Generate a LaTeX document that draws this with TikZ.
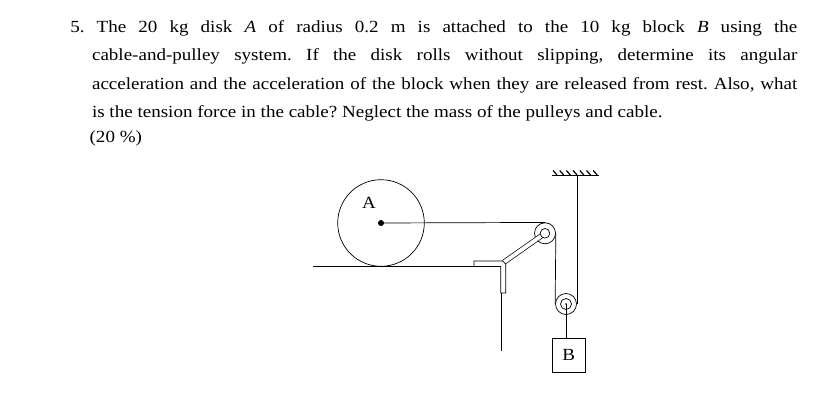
\documentclass[tikz,border=0pt]{standalone}
\usepackage{fontspec}
\setmainfont{Liberation Serif}[FakeStretch=1.12]
\usetikzlibrary{positioning}
\tikzstyle{prose} = [inner sep=0pt, text width=727pt, align=justify, font=\fontsize{17}{28.2}\selectfont\frenchspacing]
\tikzstyle{wheel} = [circle, draw=black, inner sep=0pt]
\tikzstyle{hub} = [circle, draw=black, fill=white, inner sep=0pt]
\tikzstyle{block} = [rectangle, draw=black, inner sep=0pt, minimum width=32.3pt, minimum height=34pt, font=\fontsize{17}{18}\selectfont]
\tikzstyle{rope} = [draw=black, line width=0.7pt]

\begin{document}
\begin{tikzpicture}[x=1pt, y=-1pt, line width=0.7pt]
\useasboundingbox (0,0) rectangle (819,414);

  \node (prob) [prose, anchor=base west] at (70,32.7) {\hangindent=21.7pt\hangafter=1
5. The 20 kg disk \textit{A} of radius 0.2 m is attached to the 10 kg block \textit{B} using the\linebreak
cable-and-pulley system. If the disk rolls without slipping, determine its angular\linebreak
acceleration and the acceleration of the block when they are released from rest. Also, what\linebreak
is the tension force in the cable? Neglect the mass of the pulleys and cable.\par};
  \node (mark) [anchor=base west, inner sep=0pt, font=\fontsize{17}{20}\selectfont] at (89.3,143) {(20 \%)};

  % disk and floor
  \node (diskA) [wheel, minimum size=86.6pt] at (381,223) {};
  \fill (diskA.center) circle (3pt);
  \node (labA) [font=\fontsize{17}{18}\selectfont] at (369,203) {A};
  \coordinate (floorL) at (313,266.5);
  \coordinate (floorR) at (500.7,266.5);
  \draw (floorL) -- (floorR);

  % pulleys, arm and bracket
  \node (pulleyC) [wheel, minimum size=21pt] at (545,233.3) {};
  \coordinate (armBase) at (503.5,262.5);
  \draw [double=white, double distance=3.8pt] (armBase) -- (pulleyC.center);
  \node (hubC) [hub, minimum size=9.6pt] at (pulleyC.center) {};
  \draw [fill=white] (474,261) -- (502.5,261) -- (505.7,264) -- (505.7,293) -- (500.7,293) -- (500.7,266.5) -- (474,266.5) -- cycle;
  \coordinate (wallTop) at (501.5,293);
  \coordinate (wallBot) at (501.5,351);
  \draw (wallTop) -- (wallBot);

  \node (pulleyD) [wheel, minimum size=21pt] at (566,304) {};
  \node (hubD) [hub, minimum size=11pt] at (pulleyD.center) {};
  \fill (pulleyD.center) circle (0.9pt);

  % ceiling
  \coordinate (ceilL) at (552,175);
  \coordinate (ceilR) at (599,175);
  \draw (ceilL) -- (ceilR);
  \foreach \i in {0,...,6}
    \draw [line width=1.2pt] (553+\i*6.7,170.5) -- (557+\i*6.7,175);

  % block
  \node (blockB) [block] at (568.8,355.3) {B};

  % cable
  \draw [rope] (diskA.center) -- (pulleyC.north);
  \draw [rope] (pulleyC.east) -- (pulleyD.west);
  \draw [rope] (pulleyD.east) -- (pulleyD.east |- ceilL);
  \draw [rope] (pulleyD.center) -- (pulleyD.center |- blockB.north);
\end{tikzpicture}
\end{document}
